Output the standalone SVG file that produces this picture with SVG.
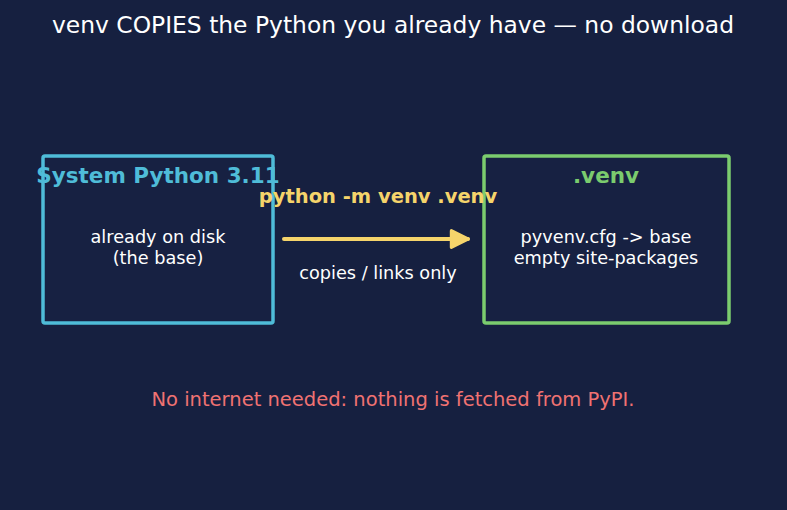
<svg xmlns="http://www.w3.org/2000/svg" width="787" height="510" viewBox="0 0 787 510">
<defs>
<style>
text{font-family:"DejaVu Sans",sans-serif;text-anchor:middle}
.title{fill:#ffffff;font-size:23.4px}
.head{font-size:21.5px;font-weight:bold}
.body{fill:#ffffff;font-size:17.7px}
.box{fill:#172142;stroke-width:3.5}
</style>
<marker id="ah" viewBox="0 0 10 10" refX="9" refY="5" markerWidth="5.2" markerHeight="5.2" orient="auto" markerUnits="strokeWidth">
<path d="M1,1 L9,5 L1,9 Z" fill="#f5d46b" stroke="#f5d46b" stroke-width="1.5" stroke-linejoin="round"/>
</marker>
</defs>
<rect width="787" height="510" fill="#162040"/>
<text class="title" x="393" y="33">venv COPIES the Python you already have — no download</text>
<g id="system-python">
<rect class="box" x="43" y="156" width="230" height="167" rx="2" stroke="#4fbcd8"/>
<text class="head" x="158" y="183" fill="#4fbcd8">System Python 3.11</text>
<text class="body" x="158" y="243">already on disk</text>
<text class="body" x="158" y="264">(the base)</text>
</g>
<g id="venv">
<rect class="box" x="484" y="156" width="245" height="167" rx="2" stroke="#7bcc6e"/>
<text class="head" x="606" y="183" fill="#7bcc6e">.venv</text>
<text class="body" x="606" y="243">pyvenv.cfg -&gt; base</text>
<text class="body" x="606" y="264">empty site-packages</text>
</g>
<g id="connectors">
<line x1="284" y1="239" x2="468" y2="239" stroke="#f5d46b" stroke-width="4" stroke-linecap="round" marker-end="url(#ah)"/>
<text x="378" y="203" fill="#f5d46b" font-size="19.5" font-weight="bold">python -m venv .venv</text>
<text class="body" x="378" y="279">copies / links only</text>
</g>
<text x="393" y="406" fill="#f07272" font-size="19.5">No internet needed: nothing is fetched from PyPI.</text>
</svg>
